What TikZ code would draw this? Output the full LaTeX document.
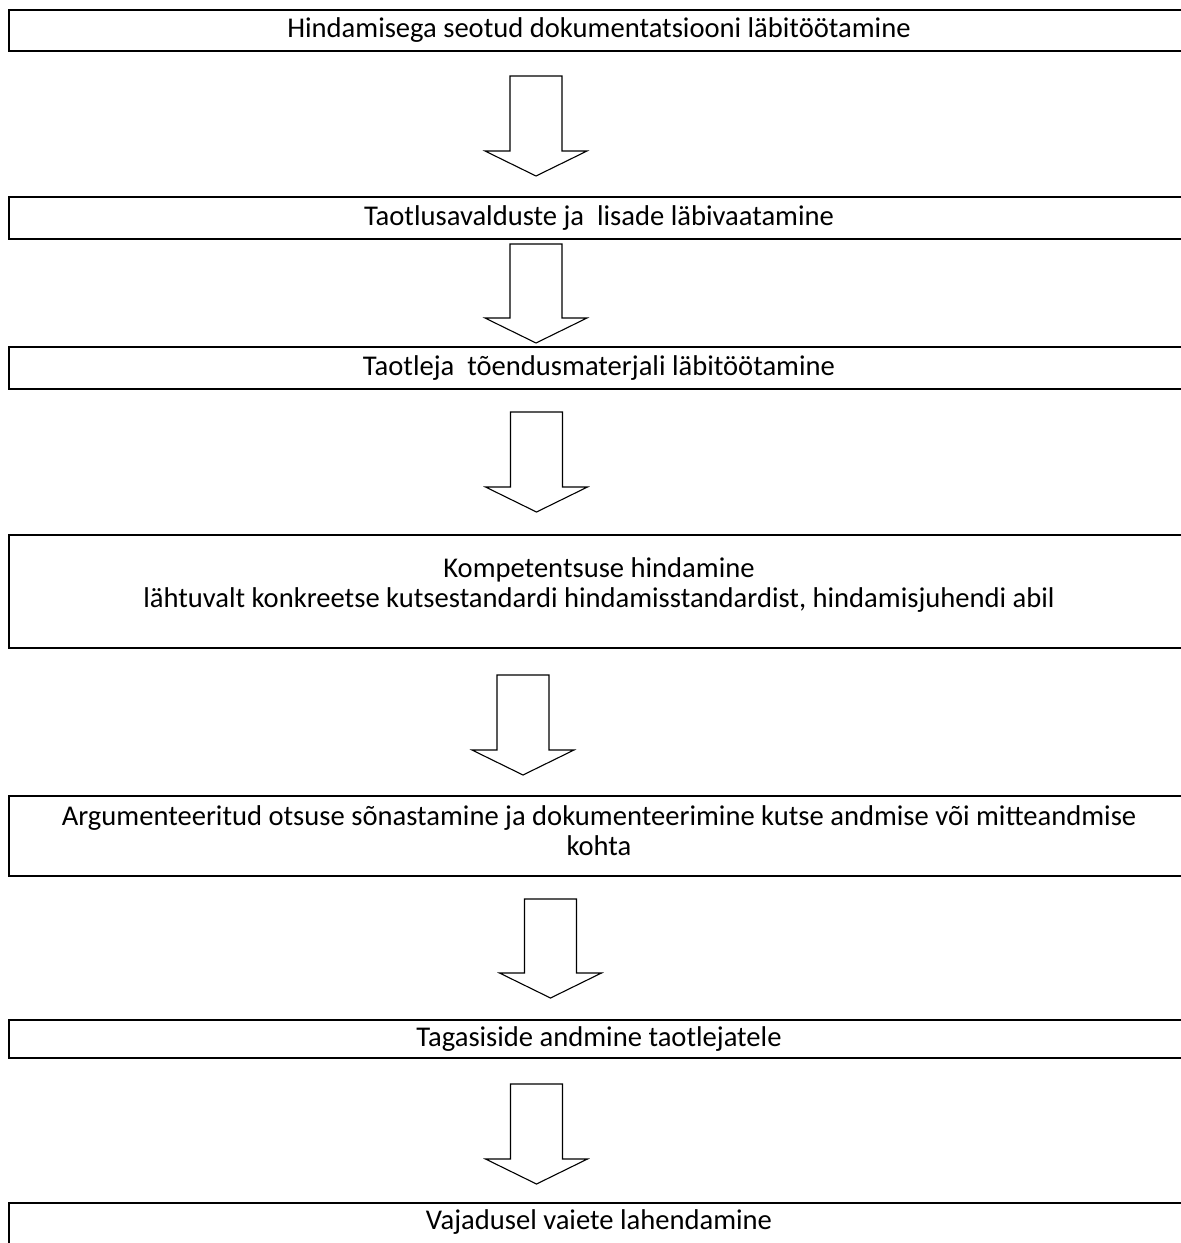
\documentclass[tikz,border=0pt]{standalone}
\usepackage{fontspec}
\setmainfont{Carlito}

\tikzset{
  stepbox/.style={draw,line width=0.85pt,minimum width=590pt,inner sep=0pt,
    align=center,font=\fontsize{14.3}{15}\selectfont},
  blockarrow/.style={draw,line width=0.55pt,line join=miter}
}
% hollow down arrow: x, top of shaft, tip
\newcommand{\downblock}[3]{%
  \draw[blockarrow] (#1-26,#2) -- (#1+26,#2) -- (#1+26,#3-25) -- (#1+51,#3-25)
    -- (#1,#3) -- (#1-51,#3-25) -- (#1-26,#3-25) -- cycle;}

\begin{document}
\begin{tikzpicture}[x=0.5pt,y=-0.5pt]
    \useasboundingbox (0,0) rectangle (1181,1243);
    \clip (0,0) rectangle (1181,1243);
    \node[stepbox,minimum height=20.5pt] (dok) at (599,30.5)
        {Hindamisega seotud dokumentatsiooni läbitöötamine};
    \node[stepbox,minimum height=21pt] (avaldus) at (599,218)
        {Taotlusavalduste ja\ \ lisade läbivaatamine};
    \node[stepbox,minimum height=21pt] (toendus) at (599,368)
        {Taotleja\ \ tõendusmaterjali läbitöötamine};
    \node[stepbox,minimum height=56.5pt] (hindamine) at (599,591.5)
        {Kompetentsuse hindamine\\lähtuvalt konkreetse kutsestandardi hindamisstandardist, hindamisjuhendi abil\\[-11pt]\strut};
    \node[stepbox,minimum height=40pt] (otsus) at (599,836)
        {Argumenteeritud otsuse sõnastamine ja dokumenteerimine kutse andmise või mitteandmise\\kohta\\[-10pt]\mbox{}};
    \node[stepbox,minimum height=19pt] (tagasiside) at (599,1039)
        {Tagasiside andmine taotlejatele};
    \node[stepbox,anchor=base,text height=13pt,text depth=20pt] (vaided) at (599,1229)
        {Vajadusel vaiete lahendamine};
    \downblock{536}{76}{176}
    \downblock{536}{244}{343}
    \downblock{536.5}{412}{512}
    \downblock{523}{675}{775}
    \downblock{550.5}{899}{998}
    \downblock{536.5}{1084}{1184}
\end{tikzpicture}
\end{document}
